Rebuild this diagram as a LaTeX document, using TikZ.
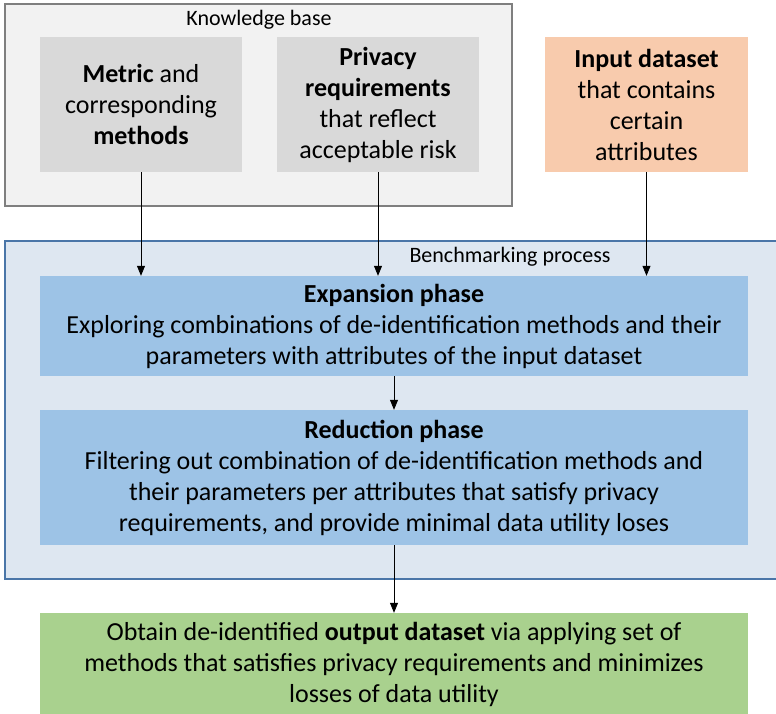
\documentclass[tikz,border=0pt]{standalone}
\usepackage{fontspec}
\setmainfont{Carlito}
\usetikzlibrary{arrows.meta}

\definecolor{kbfill}{HTML}{F2F2F2}
\definecolor{kbline}{HTML}{7F7F7F}
\definecolor{graybox}{HTML}{D9D9D9}
\definecolor{inputbox}{HTML}{F8CBAD}
\definecolor{benchfill}{HTML}{DEE7F1}
\definecolor{benchline}{HTML}{4A76A8}
\definecolor{phasebox}{HTML}{9DC3E6}
\definecolor{outbox}{HTML}{A9D18E}

\begin{document}
\begin{tikzpicture}[x=1pt,y=-1pt,
  box/.style={inner sep=0pt,align=center,font=\fontsize{26}{31}\selectfont},
  caption/.style={inner sep=0pt,font=\fontsize{22}{26}\selectfont},
  arr/.style={-{Triangle[length=10pt,width=8pt]},line width=0.8pt}]

\useasboundingbox (0,0) rectangle (776,714);

% containers
\filldraw[fill=kbfill,draw=kbline,line width=2pt] (5,4) rectangle (512,206);
\node[caption] (kb) at (259,20) {Knowledge base};

\filldraw[fill=benchfill,draw=benchline,line width=2pt] (5,241) rectangle (790,579);
\node[caption] (bench) at (510,257) {Benchmarking process};

% inputs
\node[box,fill=graybox,minimum width=202pt,minimum height=135pt] (metric) at (141,104.5)
  {\textbf{Metric} and\\corresponding\\\textbf{methods}};
\node[box,fill=graybox,minimum width=202pt,minimum height=135pt] (privacy) at (378,104.5)
  {\textbf{Privacy}\\\textbf{requirements}\\that reflect\\acceptable risk};
\node[box,fill=inputbox,minimum width=203pt,minimum height=135pt] (input) at (646.5,104.5)
  {\textbf{Input dataset}\\that contains\\certain\\attributes};

% phases
\node[box,fill=phasebox,minimum width=708pt,minimum height=100pt] (expansion) at (394,326)
  {\textbf{Expansion phase}\\Exploring combinations of de-identification methods and their\\parameters with attributes of the input dataset};
\node[box,fill=phasebox,minimum width=708pt,minimum height=135pt] (reduction) at (394,477.5)
  {\textbf{Reduction phase}\\Filtering out combination of de-identification methods and\\their parameters per attributes that satisfy privacy\\requirements, and provide minimal data utility loses};

% result
\node[box,fill=outbox,minimum width=708pt,minimum height=102pt] (output) at (394,664)
  {Obtain de-identified \textbf{output dataset} via applying set of\\methods that satisfies privacy requirements and minimizes\\losses of data utility};

\draw[arr] (metric.south) -- (metric.south |- expansion.north);
\draw[arr] (privacy.south) -- (privacy.south |- expansion.north);
\draw[arr] (input.south) -- (input.south |- expansion.north);
\draw[arr] (expansion.south) -- (reduction.north);
\draw[arr] (reduction.south) -- (output.north);

\end{tikzpicture}
\end{document}
